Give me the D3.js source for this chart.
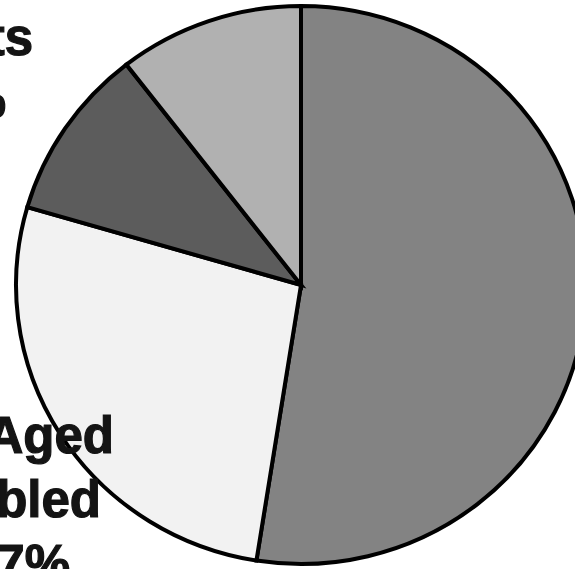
<!DOCTYPE html>
<html>
<head>
<meta charset="utf-8">
<script src="https://cdn.jsdelivr.net/npm/d3@7"></script>
<style>
  html, body { margin: 0; padding: 0; background: #ffffff; overflow: hidden; }
  svg { display: block; }
</style>
</head>
<body>
<script>
// Enrollment shares by group, clockwise from 12 o'clock
const groups = ["Children", "Aged & Disabled", "Adults", "Other"];
const shares = [52.5, 27, 10, 10.5];
const fills = ["#838383", "#f2f2f2", "#5c5c5c", "#b1b1b1"];

// Slice labels (only the parts that fall inside the frame show)
const labelAdults = ["Adults", "10%"];
const labelAged = ["Aged", "Disabled", "27%"];

const W = 575, H = 569;
const cx = 301, cy = 285, ry = 279, rx = 285;

const svg = d3.select("body").append("svg")
  .attr("width", W).attr("height", H);

const pie = d3.pie().sort(null).value(d => d.value);
const arc = d3.arc().innerRadius(0).outerRadius(ry);

const data = groups.map((g, i) => ({ group: g, value: shares[i], fill: fills[i] }));

const g = svg.append("g")
  .attr("transform", `translate(${cx},${cy}) scale(${rx / ry},1)`);

g.selectAll("path")
  .data(pie(data))
  .join("path")
  .attr("d", arc)
  .attr("fill", d => d.data.fill)
  .attr("stroke", "#000")
  .attr("stroke-width", 4)
  .attr("stroke-linejoin", "miter")
  .attr("vector-effect", "non-scaling-stroke");

const font = "'Liberation Sans', Arial, sans-serif";

function drawLabel(lines, ends, baselines) {
  svg.append("g").selectAll("text")
    .data(lines)
    .join("text")
    .attr("x", (d, i) => ends[i])
    .attr("y", (d, i) => baselines[i])
    .attr("text-anchor", "end")
    .attr("font-family", font)
    .attr("font-weight", "bold")
    .attr("font-size", 51)
    .attr("fill", "#141414")
    .attr("stroke", "#141414")
    .attr("stroke-width", 1.2)
    .text(d => d);
}

drawLabel(labelAdults, [33, 6], [55, 117]);
drawLabel(labelAged, [114, 101, 70], [453, 517, 581]);
</script>
</body>
</html>
